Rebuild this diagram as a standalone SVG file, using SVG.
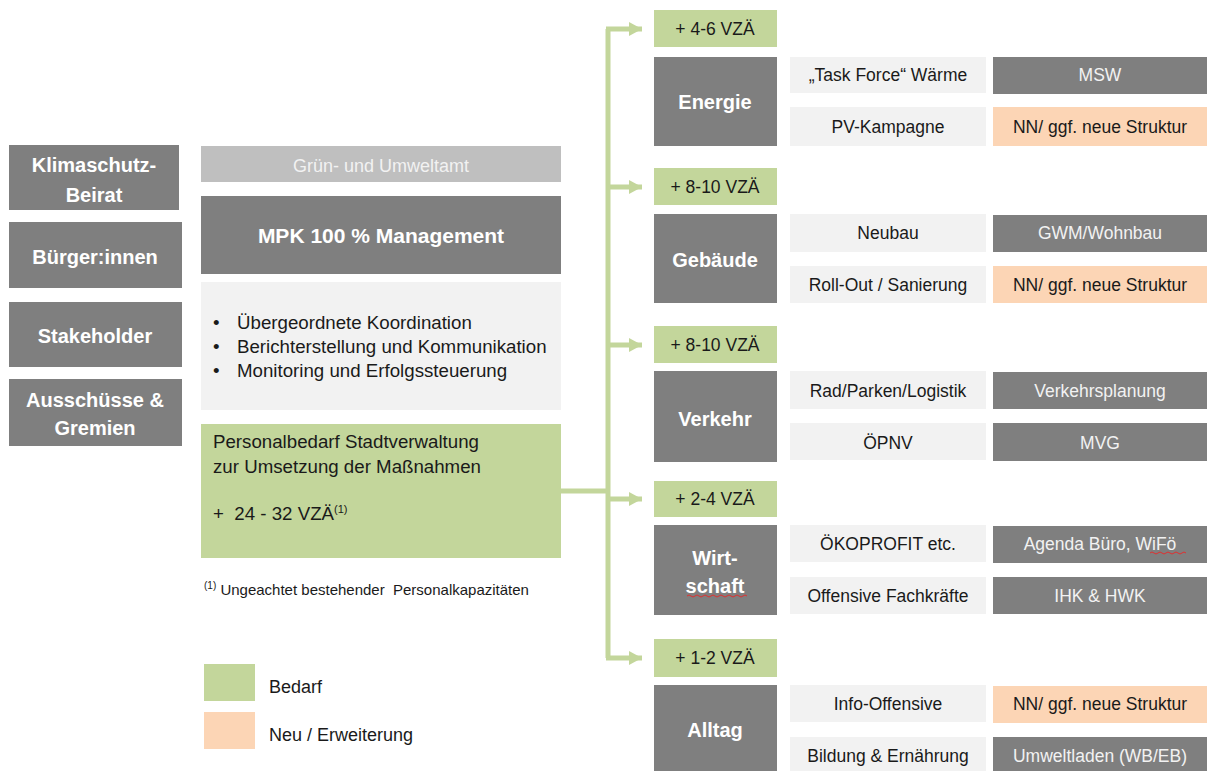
<svg xmlns="http://www.w3.org/2000/svg" width="1209" height="771" viewBox="0 0 1209 771">
<defs>
<style>
text{font-family:"Liberation Sans",Arial,sans-serif;}
.dk{fill:#7f7f7f;}
.lt{fill:#f2f2f2;}
.gr{fill:#c3d69b;}
.pe{fill:#fcd5b5;}
.gy{fill:#bfbfbf;}
.hb{font-size:20px;font-weight:bold;fill:#ffffff;text-anchor:middle;}
.t{font-size:17.5px;fill:#1a1a1a;text-anchor:middle;}
.tw{font-size:17.5px;fill:#f2f2f2;text-anchor:middle;}
.b{font-size:18.7px;fill:#1a1a1a;}
.con{fill:none;stroke:#c3d69b;stroke-width:5;}
.sq{fill:none;stroke:#e03030;stroke-width:1;}
</style>
<marker id="ah" markerUnits="userSpaceOnUse" markerWidth="14" markerHeight="14" refX="13" refY="7" orient="auto">
<path d="M0,0 L13,7 L0,14 Z" fill="#c3d69b"/>
</marker>
</defs>
<rect width="1209" height="771" fill="#ffffff"/>

<g id="connectors">
<path class="con" d="M561,491 H608"/>
<path class="con" d="M608,658 V29"/>
<path class="con" d="M606,29 H642" marker-end="url(#ah)"/>
<path class="con" d="M606,187 H642" marker-end="url(#ah)"/>
<path class="con" d="M606,345 H642" marker-end="url(#ah)"/>
<path class="con" d="M606,499 H642" marker-end="url(#ah)"/>
<path class="con" d="M606,658 H642" marker-end="url(#ah)"/>
</g>

<g id="klimaschutz-beirat"><rect class="dk" x="9" y="145" width="170" height="65"/><text class="hb" x="94" y="172">Klimaschutz-</text><text class="hb" x="94" y="202">Beirat</text></g>
<g id="buergerinnen"><rect class="dk" x="9" y="222" width="173" height="66"/><text class="hb" x="95" y="264">Bürger:innen</text></g>
<g id="stakeholder"><rect class="dk" x="9" y="302" width="173" height="65"/><text class="hb" x="95" y="343">Stakeholder</text></g>
<g id="ausschuesse"><rect class="dk" x="9" y="379" width="173" height="67"/><text class="hb" x="95" y="407">Ausschüsse &amp;</text><text class="hb" x="95" y="435">Gremien</text></g>

<g id="gruen-umweltamt"><rect class="gy" x="201" y="146" width="360" height="36"/><text x="381" y="172" style="font-size:18px;fill:#f2f2f2;text-anchor:middle">Grün- und Umweltamt</text></g>
<g id="mpk-management"><rect class="dk" x="201" y="196" width="360" height="78"/><text class="hb" x="381" y="243" style="font-size:21px">MPK 100 % Management</text></g>
<g id="aufgaben"><rect class="lt" x="201" y="282" width="360" height="128"/>
<text class="b" x="213" y="329">•</text><text class="b" x="237" y="329">Übergeordnete Koordination</text>
<text class="b" x="213" y="353">•</text><text class="b" x="237" y="353">Berichterstellung und Kommunikation</text>
<text class="b" x="213" y="377">•</text><text class="b" x="237" y="377">Monitoring und Erfolgssteuerung</text>
</g>
<g id="personalbedarf"><rect class="gr" x="201" y="424" width="360" height="134"/>
<text class="b" x="213" y="448">Personalbedarf Stadtverwaltung</text>
<text class="b" x="213" y="473">zur Umsetzung der Maßnahmen</text>
<text class="b" x="213" y="520" xml:space="preserve">+  24 - 32 VZÄ<tspan dy="-7" style="font-size:11px">(1)</tspan></text>
</g>
<g id="fussnote"><text x="204" y="595" style="font-size:15px;fill:#1a1a1a" xml:space="preserve"><tspan dy="-6" style="font-size:10px">(1)</tspan><tspan dy="6"> Ungeachtet bestehender  Personalkapazitäten</tspan></text></g>

<g id="legende">
<rect class="gr" x="204" y="664" width="51" height="37"/><text class="b" x="269" y="693" style="font-size:18px">Bedarf</text>
<rect class="pe" x="204" y="712" width="51" height="37"/><text class="b" x="269" y="741" style="font-size:18px">Neu / Erweiterung</text>
</g>

<g id="energie">
<rect class="gr" x="654" y="10" width="123" height="37"/><text class="t" x="715" y="35">+ 4-6 VZÄ</text>
<rect class="dk" x="654" y="57" width="123" height="89"/><text class="hb" x="715" y="109">Energie</text>
<rect class="lt" x="790" y="57" width="196" height="36"/><text class="t" x="888" y="81">„Task Force“ Wärme</text>
<rect class="dk" x="993" y="57" width="214" height="37"/><text class="tw" x="1100" y="81">MSW</text>
<rect class="lt" x="790" y="107" width="196" height="39"/><text class="t" x="888" y="133">PV-Kampagne</text>
<rect class="pe" x="993" y="107" width="214" height="39"/><text class="t" x="1100" y="133">NN/ ggf. neue Struktur</text>
</g>

<g id="gebaeude">
<rect class="gr" x="654" y="168" width="123" height="37"/><text class="t" x="715" y="193">+ 8-10 VZÄ</text>
<rect class="dk" x="654" y="214" width="123" height="89"/><text class="hb" x="715" y="267">Gebäude</text>
<rect class="lt" x="790" y="214" width="196" height="38"/><text class="t" x="888" y="239">Neubau</text>
<rect class="dk" x="993" y="215" width="214" height="37"/><text class="tw" x="1100" y="239">GWM/Wohnbau</text>
<rect class="lt" x="790" y="266" width="196" height="37"/><text class="t" x="888" y="291">Roll-Out / Sanierung</text>
<rect class="pe" x="993" y="266" width="214" height="37"/><text class="t" x="1100" y="291">NN/ ggf. neue Struktur</text>
</g>

<g id="verkehr">
<rect class="gr" x="654" y="326" width="123" height="37"/><text class="t" x="715" y="351">+ 8-10 VZÄ</text>
<rect class="dk" x="654" y="371" width="123" height="91"/><text class="hb" x="715" y="426">Verkehr</text>
<rect class="lt" x="790" y="371" width="196" height="38"/><text class="t" x="888" y="397">Rad/Parken/Logistik</text>
<rect class="dk" x="993" y="372" width="214" height="37"/><text class="tw" x="1100" y="397">Verkehrsplanung</text>
<rect class="lt" x="790" y="423" width="196" height="37"/><text class="t" x="888" y="449">ÖPNV</text>
<rect class="dk" x="993" y="423" width="214" height="38"/><text class="tw" x="1100" y="449">MVG</text>
</g>

<g id="wirtschaft">
<rect class="gr" x="654" y="481" width="123" height="36"/><text class="t" x="715" y="505">+ 2-4 VZÄ</text>
<rect class="dk" x="654" y="525" width="123" height="90"/><text class="hb" x="715" y="565">Wirt-</text><text class="hb" x="715" y="593">schaft</text>
<path class="sq" d="M687,596 q2,-2 4,0 t4,0 t4,0 t4,0 t4,0 t4,0 t4,0 t4,0 t4,0 t4,0 t4,0 t4,0 t4,0 t4,0 t4,0"/>
<rect class="lt" x="790" y="525" width="196" height="37"/><text class="t" x="888" y="550">ÖKOPROFIT etc.</text>
<rect class="dk" x="993" y="526" width="214" height="37"/><text class="tw" x="1100" y="550">Agenda Büro, WiFö</text>
<path class="sq" d="M1150,553 q2,-2 4,0 t4,0 t4,0 t4,0 t4,0 t4,0 t4,0 t4,0 t4,0"/>
<rect class="lt" x="790" y="577" width="196" height="37"/><text class="t" x="888" y="602">Offensive Fachkräfte</text>
<rect class="dk" x="993" y="577" width="214" height="37"/><text class="tw" x="1100" y="602">IHK &amp; HWK</text>
</g>

<g id="alltag">
<rect class="gr" x="654" y="639" width="123" height="38"/><text class="t" x="715" y="664">+ 1-2 VZÄ</text>
<rect class="dk" x="654" y="685" width="123" height="86"/><text class="hb" x="715" y="737">Alltag</text>
<rect class="lt" x="790" y="685" width="196" height="37"/><text class="t" x="888" y="710">Info-Offensive</text>
<rect class="pe" x="993" y="686" width="214" height="37"/><text class="t" x="1100" y="710">NN/ ggf. neue Struktur</text>
<rect class="lt" x="790" y="737" width="196" height="34"/><text class="t" x="888" y="762">Bildung &amp; Ernährung</text>
<rect class="dk" x="993" y="737" width="214" height="34"/><text class="tw" x="1100" y="762">Umweltladen (WB/EB)</text>
</g>
</svg>
